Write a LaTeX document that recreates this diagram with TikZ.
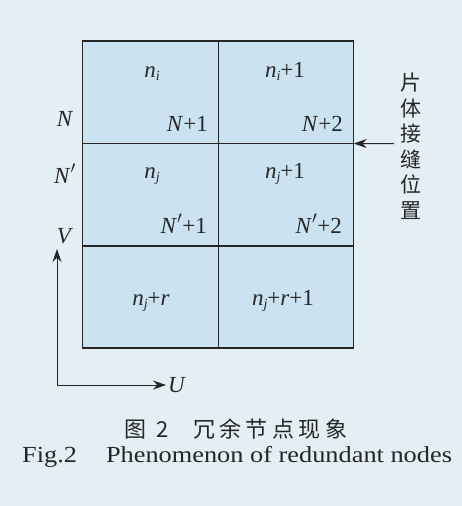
\documentclass[tikz,border=0pt]{standalone}
\usepackage{fontspec}
\setmainfont{Liberation Serif}
\newfontfamily\cjk{Noto Sans CJK SC}
\usetikzlibrary{arrows.meta}
\definecolor{bgc}{HTML}{E3EEF5}
\definecolor{cellc}{HTML}{CBE3F0}
\definecolor{inkc}{HTML}{262626}
\newcommand{\vi}[1]{\textit{#1}}
\newcommand{\sbi}[1]{\raisebox{-0.35ex}{\fontsize{14}{14}\selectfont\textit{#1}}}
\begin{document}
\begin{tikzpicture}[x=1pt,y=-1pt,
  cell/.style={fill=cellc,minimum width=135.5pt,minimum height=102.3pt,inner sep=0pt},
  grid/.style={draw=inkc,line width=1.4pt},
  lab/.style={font=\fontsize{23}{23}\selectfont,text=inkc,inner sep=0pt},
  axis/.style={draw=inkc,line width=1pt,-{Stealth[length=13pt,width=9pt]}}]
\fill[bgc] (0,0) rectangle (462,506);
\useasboundingbox (0,0) rectangle (462,506);
% cells
\node[cell] (c11) at (150.25,92.2) {};
\node[cell] (c12) at (285.75,92.2) {};
\node[cell] (c21) at (150.25,194.5) {};
\node[cell] (c22) at (285.75,194.5) {};
\node[cell] (c31) at (150.25,296.8) {};
\node[cell] (c32) at (285.75,296.8) {};
\draw[grid] (c11.north west) rectangle (c32.south east);
\draw[grid] (c11.north east) -- (c31.south east);
\draw[grid] (c11.south west) -- (c12.south east);
\draw[grid] (c21.south west) -- (c22.south east);
% cell labels
\node[lab,anchor=base] (ni) at (152,77) {\vi{n}\sbi{i}};
\node[lab,anchor=base] (ni1) at (285,77) {\vi{n}\sbi{i}+1};
\node[lab,anchor=base east] (N1) at (208,131) {\vi{N}+1};
\node[lab,anchor=base east] (N2) at (343,131) {\vi{N}+2};
\node[lab,anchor=base] (nj) at (152,178) {\vi{n}\sbi{j}};
\node[lab,anchor=base] (nj1) at (285,178) {\vi{n}\sbi{j}+1};
\node[lab,anchor=base east] (Np1) at (207,233) {\vi{N}$'$+1};
\node[lab,anchor=base east] (Np2) at (342,233) {\vi{N}$'$+2};
\node[lab,anchor=base] (njr) at (151,305) {\vi{n}\sbi{j}+\vi{r}};
\node[lab,anchor=base] (njr1) at (283,305) {\vi{n}\sbi{j}+\vi{r}+1};
% side labels
\node[lab,anchor=base] (N) at (65,126) {\vi{N}};
\node[lab,anchor=base] (Np) at (65,183) {\vi{N}$'$};
\node[lab,anchor=base] (V) at (65,243) {\vi{V}};
\node[lab,anchor=base west] (U) at (168,392) {\vi{U}};
% axes
\coordinate (O) at (57,385);
\coordinate (Vtip) at (57,249);
\coordinate (Utip) at (166,385);
\draw[axis] (O) -- (Vtip);
\draw[axis] (O) -- (Utip);
% seam arrow
\coordinate (seam) at (c12.south east);
\coordinate (tail) at (394,143.5);
\draw[axis] (tail) -- (seam);
\node[text=inkc,align=center,inner sep=0pt,font=\cjk\fontsize{21}{25.5}\selectfont,anchor=north] (seamlab) at (411,73) {片\\体\\接\\缝\\位\\置};
% captions
\node[text=inkc,inner sep=0pt,anchor=base,font=\cjk\fontsize{22}{22}\selectfont] (cap1) at (236,437) {图\hspace{0.45em}2\hspace{1.1em}冗\hspace{0.2em}余\hspace{0.2em}节\hspace{0.2em}点\hspace{0.2em}现\hspace{0.2em}象};
\node[text=inkc,inner sep=0pt,anchor=base west,font=\fontsize{23}{23}\selectfont] (cap2) at (22,462) {\scalebox{1.145}[1]{Fig.2\hspace{1.1em}Phenomenon of redundant nodes}};
\end{tikzpicture}
\end{document}
